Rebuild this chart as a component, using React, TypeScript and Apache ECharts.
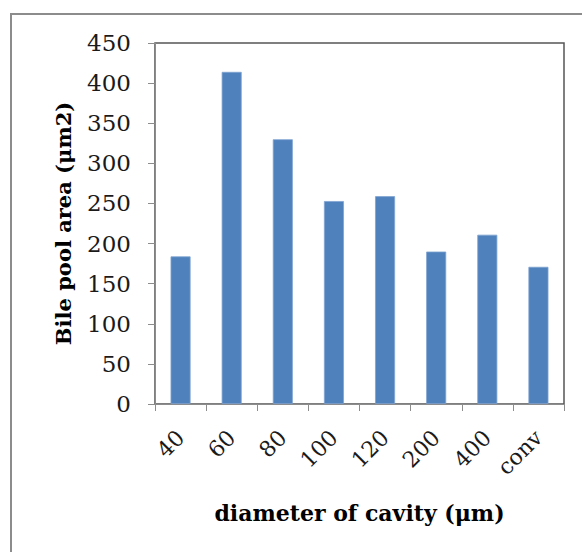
import React, { useEffect, useRef } from "react";
import * as echarts from "echarts";

const categories = ["40", "60", "80", "100", "120", "200", "400", "conv"];
const values = [184, 414, 330, 253, 259, 190, 211, 171];
const yTicks = { min: 0, max: 450, interval: 50 };
const yTitle = "Bile pool area (μm2)";
const xTitle = "diameter of cavity (μm)";

export default function App() {
  const ref = useRef<HTMLDivElement>(null);
  useEffect(() => {
    document.body.style.margin = "0";
    const chart = echarts.init(ref.current!, null, { renderer: "svg" });
    const serif = "'DejaVu Serif', 'Liberation Serif', serif";
    chart.setOption({
      animation: false,
      backgroundColor: "#ffffff",
      graphic: [
        {
          type: "rect",
          shape: { x: 11, y: 14, width: 700, height: 700 },
          style: { fill: "none", stroke: "#8c8c8c", lineWidth: 2 },
          silent: true,
        },
      ],
      grid: {
        left: 155,
        top: 43,
        right: 18,
        bottom: 148,
        show: true,
        borderColor: "#555555",
        borderWidth: 1.5,
        backgroundColor: "transparent",
      },
      xAxis: {
        type: "category",
        data: categories,
        axisLine: { show: true, lineStyle: { color: "#8c8c8c", width: 1 } },
        axisTick: { show: true, length: 7, lineStyle: { color: "#8c8c8c" } },
        axisLabel: {
          rotate: 45,
          margin: 30,
          color: "#1a1a1a",
          fontFamily: serif,
          fontSize: 22,
        },
        name: xTitle,
        nameLocation: "middle",
        nameGap: 98,
        nameTextStyle: {
          fontFamily: serif,
          fontWeight: "bold",
          fontSize: 22,
          color: "#000",
        },
      },
      yAxis: {
        type: "value",
        min: yTicks.min,
        max: yTicks.max,
        interval: yTicks.interval,
        splitLine: { show: false },
        axisLine: { show: true, lineStyle: { color: "#8c8c8c", width: 1 } },
        axisTick: { show: true, length: 7, lineStyle: { color: "#8c8c8c" } },
        axisLabel: {
          margin: 24,
          color: "#1a1a1a",
          fontFamily: serif,
          fontSize: 23,
        },
        name: yTitle,
        nameLocation: "middle",
        nameGap: 81,
        nameRotate: 90,
        nameTextStyle: {
          fontFamily: serif,
          fontWeight: "bold",
          fontSize: 21,
          color: "#000",
        },
      },
      series: [
        {
          type: "bar",
          data: values,
          barWidth: 20,
          itemStyle: { color: "#4F81BD", borderColor: "#7FA3D0", borderWidth: 0.8 },
        },
      ],
    });
    return () => chart.dispose();
  }, []);
  return <div ref={ref} style={{ width: 582, height: 552 }} />;
}
